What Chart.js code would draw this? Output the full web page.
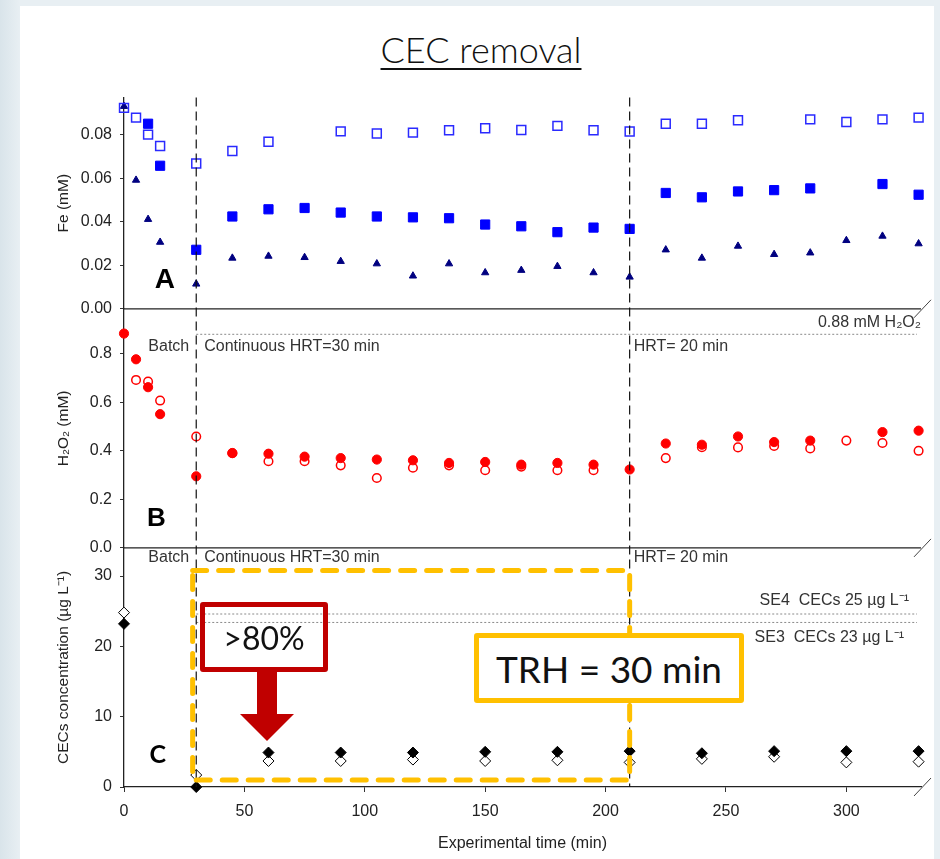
<!DOCTYPE html>
<html>
<head>
<meta charset="utf-8">
<script src="https://cdn.jsdelivr.net/npm/chart.js@4.4.1/dist/chart.umd.min.js"></script>
<style>
  html, body { margin: 0; padding: 0; }
  body {
    width: 940px; height: 859px; position: relative; overflow: hidden;
    background: linear-gradient(90deg, #d9e4ea 0px, #e8eff3 20px, #e8eff3 100%);
  }
  #card { position: absolute; left: 20px; top: 6px; width: 914px; height: 853px; background: #fff; }
  #title {
    position: absolute; left: 481px; top: 27px; transform: translateX(-50%);
    font-family: Lato, "Noto Sans", sans-serif; font-size: 36px; font-weight: 300; color: #111;
    text-decoration: underline; text-underline-offset: 5px; text-decoration-thickness: 2px;
    white-space: nowrap;
  }
  #wrap { position: absolute; left: 50px; top: 80px; width: 890px; height: 779px; }
  #cecChart { display: block; }
  .callout {
    position: absolute; box-sizing: border-box; border-radius: 3px;
    font-family: Lato, "Noto Sans", sans-serif; color: #111;
    display: flex; align-items: center; justify-content: center;
  }
  #drop { left: 200px; top: 602px; width: 128px; height: 70px; border: 5px solid #c00000; font-size: 32px; }
  #shaft { position: absolute; left: 257px; top: 669px; width: 20px; height: 46px; background: #c00000; }
  #head {
    position: absolute; left: 240px; top: 714px; width: 0; height: 0;
    border-left: 27px solid transparent; border-right: 27px solid transparent; border-top: 27px solid #c00000;
  }
  #trh { left: 474px; top: 633px; width: 270px; height: 70px; border: 5px solid #ffc000; background: #fff; font-size: 37px; }
</style>
</head>
<body>
<div id="card"></div>
<div id="title">CEC removal</div>
<div id="wrap"><canvas id="cecChart" width="890" height="779"></canvas></div>
<div class="callout" id="drop">&gt;80%</div>
<div id="shaft"></div>
<div id="head"></div>
<div class="callout" id="trh">TRH = 30 min</div>
<script>
// sampling times (min) for Fe and H2O2
const sampleTimes = [0, 5, 10, 15, 30, 45, 60, 75, 90, 105, 120, 135, 150, 165, 180, 195, 210, 225, 240, 255, 270, 285, 300, 315, 330];

// panel A - Fe (mM)
const feOpen   = [0.0923, 0.0878, 0.0800, 0.0748, 0.0667, 0.0725, 0.0767, null, 0.0815, 0.0805, 0.0809, 0.0820, 0.0829, 0.0821, 0.0840, 0.0820, 0.0814, 0.0850, 0.0850, 0.0866, null, 0.0870, 0.0858, 0.0870, 0.0878];
const feFilled = [null, null, 0.0850, 0.0657, 0.0271, 0.0424, 0.0457, 0.0463, 0.0442, 0.0424, 0.0420, 0.0416, 0.0387, 0.0379, 0.0352, 0.0373, 0.0367, 0.0532, 0.0512, 0.0539, 0.0545, 0.0553, null, 0.0573, 0.0524];
const feTriangle = [0.0930, 0.0591, 0.0411, 0.0306, 0.0114, 0.0233, 0.0242, 0.0236, 0.0218, 0.0207, 0.0151, 0.0207, 0.0166, 0.0177, 0.0195, 0.0166, 0.0146, 0.0271, 0.0233, 0.0288, 0.0250, 0.0257, 0.0314, 0.0334, 0.0299];

// panel B - H2O2 (mM)
const h2o2Filled = [0.883, 0.777, 0.662, 0.551, 0.295, 0.391, 0.388, 0.376, 0.370, 0.364, 0.361, 0.350, 0.354, 0.343, 0.350, 0.343, 0.323, 0.430, 0.425, 0.459, 0.436, 0.442, null, 0.477, 0.483];
const h2o2Open   = [null, 0.692, 0.685, 0.607, 0.459, 0.390, 0.357, 0.357, 0.340, 0.288, 0.330, 0.340, 0.320, 0.335, 0.320, 0.320, null, 0.370, 0.415, 0.414, 0.420, 0.410, 0.442, 0.432, 0.400];

// panel C - CECs (ug/L)
const cecTimes  = [0, 30, 60, 90, 120, 150, 180, 210, 240, 270, 300, 330];
const cecFilled = [23.2, 0.0, 4.9, 4.9, 4.9, 5.0, 5.0, 5.1, 4.8, 5.1, 5.1, 5.1];
const cecOpen   = [24.8, 1.7, 3.7, 3.7, 3.9, 3.7, 3.8, 3.5, 4.0, 4.3, 3.5, 3.6];

// reference levels, phase changes and ticks
const phaseTimes = [30, 210];
const h2o2Dose = 0.88;
const se4Level = 24.6;
const se3Level = 23.4;
const xTicks = [0, 50, 100, 150, 200, 250, 300];
const feTicks = [0, 0.02, 0.04, 0.06, 0.08];
const h2o2Ticks = [0, 0.2, 0.4, 0.6, 0.8];
const cecTicks = [0, 10, 20, 30];

const FONT = "'Liberation Sans', Arial, sans-serif";
const INK = "#222";

function toPoints(times, values) {
  return times.map((t, i) => ({ x: t, y: values[i] })).filter(p => p.y !== null);
}

function fixedTicks(values) {
  return scale => { scale.ticks = values.map(v => ({ value: v })); };
}

function yAxis(opts) {
  return {
    type: "linear",
    position: "left",
    stack: "panels",
    stackWeight: opts.stackWeight,
    weight: opts.weight,
    min: 0,
    max: opts.max,
    afterBuildTicks: fixedTicks(opts.ticks),
    afterFit: scale => { scale.width = 74; },
    ticks: {
      color: INK,
      font: { family: FONT, size: 16 },
      padding: 8,
      callback: v => v.toFixed(opts.digits)
    },
    grid: { display: true, drawOnChartArea: false, drawTicks: true, tickLength: 4, color: "#333" },
    border: { display: true, color: INK, width: 1.3 },
    title: {
      display: true,
      text: opts.title,
      color: INK,
      font: { family: FONT, size: 15.5 },
      padding: { top: 4, bottom: 4 }
    }
  };
}

function line(ctx, x1, y1, x2, y2) {
  ctx.beginPath();
  ctx.moveTo(x1, y1);
  ctx.lineTo(x2, y2);
  ctx.stroke();
}

const overlayPlugin = {
  id: "overlay",
  afterDatasetsDraw(chart) {
    const { ctx, chartArea, scales } = chart;
    const x = scales.x, yA = scales.yFe, yB = scales.yH2O2, yC = scales.yCEC;
    const left = chartArea.left, right = chartArea.right;
    ctx.save();

    // panel separators + axis breaks
    ctx.strokeStyle = INK;
    ctx.lineWidth = 1.3;
    [yA.bottom, yB.bottom].forEach(py => line(ctx, left, py, right, py));
    ctx.lineWidth = 1;
    ctx.strokeStyle = "#444";
    [yA.bottom, yB.bottom, chartArea.bottom].forEach(py => line(ctx, right - 7, py + 9, right + 10, py - 9));

    // dotted reference levels
    const xStart = x.getPixelForValue(phaseTimes[0]);
    ctx.setLineDash([2, 2]);
    ctx.strokeStyle = "#8a8a8a";
    [yB.getPixelForValue(h2o2Dose), yC.getPixelForValue(se4Level), yC.getPixelForValue(se3Level)]
      .forEach(py => line(ctx, xStart, py, right - 4, py));

    // phase change lines
    ctx.setLineDash([9, 5]);
    ctx.strokeStyle = "#111";
    ctx.lineWidth = 1.2;
    phaseTimes.forEach(t => {
      const px = x.getPixelForValue(t);
      line(ctx, px, chartArea.top, px, chartArea.bottom);
    });
    ctx.setLineDash([]);

    // phase labels
    ctx.fillStyle = "#333";
    ctx.font = `16px ${FONT}`;
    ctx.textBaseline = "middle";
    const p1 = x.getPixelForValue(phaseTimes[0]);
    const p2 = x.getPixelForValue(phaseTimes[1]);
    [[yB, 0.83], [yC, 32.6]].forEach(([scale, v]) => {
      const py = scale.getPixelForValue(v);
      ctx.textAlign = "right";
      ctx.fillText("Batch", p1 - 7, py);
      ctx.textAlign = "left";
      ctx.fillText("Continuous HRT=30 min", p1 + 8, py);
      ctx.fillText("HRT= 20 min", p2 + 4, py);
    });
    ctx.textAlign = "right";
    ctx.fillText("0.88 mM H₂O₂", right, yB.getPixelForValue(0.93));
    ctx.fillText("SE4  CECs 25 µg L⁻¹", right - 12, yC.getPixelForValue(26.5));
    ctx.fillText("SE3  CECs 23 µg L⁻¹", right - 17, yC.getPixelForValue(21.2));

    // panel letters
    ctx.fillStyle = "#000";
    ctx.textAlign = "center";
    ctx.font = `bold 28px ${FONT}`;
    ctx.fillText("A", x.getPixelForValue(17), yA.getPixelForValue(0.013));
    ctx.font = `bold 26px ${FONT}`;
    ctx.fillText("B", x.getPixelForValue(13.5), yB.getPixelForValue(0.118));
    ctx.font = `bold 25px Lato, ${FONT}`;
    ctx.fillText("C", x.getPixelForValue(14), yC.getPixelForValue(4.5));

    // highlighted continuous period (HRT = 30 min)
    const bx1 = x.getPixelForValue(28.5), bx2 = x.getPixelForValue(210);
    const by1 = yC.getPixelForValue(30.8), by2 = yC.getPixelForValue(1.0);
    ctx.strokeStyle = "#ffc000";
    ctx.lineWidth = 5;
    ctx.lineCap = "round";
    ctx.setLineDash([14, 12]);
    ctx.strokeRect(bx1, by1, bx2 - bx1, by2 - by1);

    ctx.restore();
  }
};

const ctx = document.getElementById("cecChart");

new Chart(ctx, {
  type: "scatter",
  data: {
    datasets: [
      { label: "Fe open", data: toPoints(sampleTimes, feOpen), yAxisID: "yFe",
        pointStyle: "rect", pointRadius: 6.3, borderColor: "#2a2aff", borderWidth: 1.5, backgroundColor: "rgba(255,255,255,0)" },
      { label: "Fe filled", data: toPoints(sampleTimes, feFilled), yAxisID: "yFe",
        pointStyle: "rect", pointRadius: 6.5, borderColor: "#0000ff", borderWidth: 1, backgroundColor: "#0000ff" },
      { label: "Fe triangle", data: toPoints(sampleTimes, feTriangle), yAxisID: "yFe",
        pointStyle: "triangle", pointRadius: 4.2, borderColor: "#000080", borderWidth: 1, backgroundColor: "#000080" },
      { label: "H2O2 filled", data: toPoints(sampleTimes, h2o2Filled), yAxisID: "yH2O2",
        pointStyle: "circle", pointRadius: 4.6, borderColor: "#ff0000", borderWidth: 1, backgroundColor: "#ff0000" },
      { label: "H2O2 open", data: toPoints(sampleTimes, h2o2Open), yAxisID: "yH2O2",
        pointStyle: "circle", pointRadius: 4.3, borderColor: "#ff0000", borderWidth: 1.5, backgroundColor: "#ffffff" },
      { label: "CEC filled", data: toPoints(cecTimes, cecFilled), yAxisID: "yCEC",
        pointStyle: "rectRot", pointRadius: 5.5, borderColor: "#000", borderWidth: 1, backgroundColor: "#000" },
      { label: "CEC open", data: toPoints(cecTimes, cecOpen), yAxisID: "yCEC",
        pointStyle: "rectRot", pointRadius: 5.5, borderColor: "#000", borderWidth: 1, backgroundColor: "#ffffff" }
    ].map(ds => Object.assign(ds, { clip: false, showLine: false, pointHoverRadius: ds.pointRadius }))
  },
  options: {
    responsive: false,
    maintainAspectRatio: false,
    animation: false,
    events: [],
    layout: { padding: { top: 15, right: 19, left: 0, bottom: 0 } },
    plugins: { legend: { display: false }, tooltip: { enabled: false } },
    scales: {
      x: {
        type: "linear",
        position: "bottom",
        min: 0,
        max: 331,
        afterBuildTicks: fixedTicks(xTicks),
        afterFit: scale => { scale.height = 72; },
        ticks: { color: INK, font: { family: FONT, size: 16 }, padding: 10 },
        grid: { display: true, drawOnChartArea: false, drawTicks: true, tickLength: 5, color: "#333" },
        border: { display: true, color: INK, width: 1.3 },
        title: {
          display: true,
          text: "Experimental time (min)",
          color: INK,
          font: { family: FONT, size: 16 },
          padding: { top: 4, bottom: 6 }
        }
      },
      yCEC: yAxis({ stackWeight: 240, weight: 1, max: 34, ticks: cecTicks, digits: 0, title: "CECs concentration (µg L⁻¹)" }),
      yH2O2: yAxis({ stackWeight: 240, weight: 2, max: 0.985, ticks: h2o2Ticks, digits: 1, title: "H₂O₂ (mM)" }),
      yFe: yAxis({ stackWeight: 212, weight: 3, max: 0.097, ticks: feTicks, digits: 2, title: "Fe (mM)" })
    }
  },
  plugins: [overlayPlugin]
});
</script>
</body>
</html>
